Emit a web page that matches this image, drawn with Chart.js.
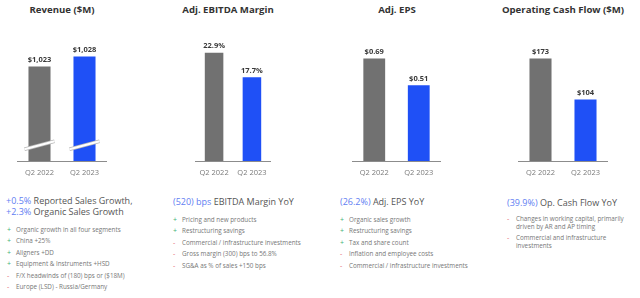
<!DOCTYPE html>
<html>
<head>
<meta charset="utf-8">
<script src="https://cdn.jsdelivr.net/npm/chart.js@4.4.0/dist/chart.umd.min.js"></script>
<style>
    html, body { margin: 0; padding: 0; background: #ffffff; }
    body { width: 640px; height: 298px; position: relative; overflow: hidden; font-family: 'Open Sans', sans-serif; }
    canvas { position: absolute; top: 0; }
    .title { position: absolute; top: 3px; width: 160px; text-align: center; font-weight: 700; font-size: 9.6px; color: #333; white-space: nowrap; }
    .headline { position: absolute; top: 196px; font-size: 9px; line-height: 10.5px; color: #555; white-space: nowrap; }
    .headline .hl { color: #5f7ef2; }
    .bullets { position: absolute; margin: 0; padding: 0; list-style: none; font-size: 6.3px; color: #777; }
    .bullets li { position: relative; padding-left: 9px; margin-bottom: 3.6px; line-height: 7.8px; }
    .bullets li::before { position: absolute; left: 0; top: 0; font-size: 7px; }
    .bullets li.pos::before { content: '+'; color: #3fb37a; }
    .bullets li.neg::before { content: '-'; color: #e36a6a; }
</style>
</head>
<body>

<div class="title" style="left: -18px;">Revenue ($M)</div>
<div class="title" style="left: 148px;">Adj. EBITDA Margin</div>
<div class="title" style="left: 317px;">Adj. EPS</div>
<div class="title" style="left: 483px;">Operating Cash Flow ($M)</div>

<canvas id="revenueChart" width="90" height="184" style="left: 17px;"></canvas>
<canvas id="ebitdaChart" width="80" height="184" style="left: 193px;"></canvas>
<canvas id="epsChart" width="89" height="184" style="left: 352px;"></canvas>
<canvas id="ocfChart" width="90" height="184" style="left: 518px;"></canvas>

<div class="headline" style="left: 6px;"><span class="hl">+0.5%</span> Reported Sales Growth,<br><span class="hl">+2.3%</span> Organic Sales Growth</div>
<ul class="bullets" style="left: 7px; top: 226px;">
    <li class="pos">Organic growth in all four segments</li>
    <li class="pos">China +25%</li>
    <li class="pos">Aligners +DD</li>
    <li class="pos">Equipment &amp; Instruments +HSD</li>
    <li class="neg">F/X headwinds of (180) bps or ($18M)</li>
    <li class="neg">Europe (LSD) - Russia/Germany</li>
</ul>

<div class="headline" style="left: 173px; top: 197px;"><span class="hl">(520) bps</span> EBITDA Margin YoY</div>
<ul class="bullets" style="left: 173px; top: 216px;">
    <li class="pos">Pricing and new products</li>
    <li class="pos">Restructuring savings</li>
    <li class="neg">Commercial / infrastructure investments</li>
    <li class="neg">Gross margin (300) bps to 56.8%</li>
    <li class="neg">SG&amp;A as % of sales +150 bps</li>
</ul>

<div class="headline" style="left: 340px; top: 197px;"><span class="hl">(26.2%)</span> Adj. EPS YoY</div>
<ul class="bullets" style="left: 340px; top: 216px;">
    <li class="pos">Organic sales growth</li>
    <li class="pos">Restructuring savings</li>
    <li class="pos">Tax and share count</li>
    <li class="neg">Inflation and employee costs</li>
    <li class="neg">Commercial / infrastructure investments</li>
</ul>

<div class="headline" style="left: 507px; top: 198px;"><span class="hl">(39.9%)</span> Op. Cash Flow YoY</div>
<ul class="bullets" style="left: 507px; top: 215px; width: 120px; white-space: normal;">
    <li class="neg">Changes in working capital, primarily driven by AR and AP timing</li>
    <li class="neg">Commercial and infrastructure investments</li>
</ul>

<script>
// --- Chart data ---
const periods = ['Q2 2022', 'Q2 2023'];
const revenue = [1023, 1028];
const ebitdaMargin = [22.9, 17.7];
const adjEps = [0.69, 0.51];
const opCashFlow = [173, 104];

const barColors = ['#717171', '#1f50f6'];
const fontFamily = "'Open Sans', sans-serif";

// --- Value labels drawn above each bar ---
const valueLabels = {
    id: 'valueLabels',
    afterDatasetsDraw(chart, args, opts) {
        const ctx = chart.ctx;
        const meta = chart.getDatasetMeta(0);
        ctx.save();
        ctx.font = `700 7.5px ${fontFamily}`;
        ctx.fillStyle = '#3a3a3a';
        ctx.textAlign = 'center';
        ctx.textBaseline = 'bottom';
        meta.data.forEach((bar, i) => {
            ctx.fillText(opts.format(chart.data.datasets[0].data[i]), bar.x, bar.y - 3);
        });
        ctx.restore();
    }
};

// --- Axis break marks (revenue only, since its scale does not start at zero) ---
const breakMarks = {
    id: 'breakMarks',
    afterDatasetsDraw(chart, args, opts) {
        if (opts.value === undefined) return;
        const ctx = chart.ctx;
        const y = chart.scales.y.getPixelForValue(opts.value);
        chart.getDatasetMeta(0).data.forEach(bar => {
            const half = bar.width / 2 + 4;
            ctx.save();
            ctx.strokeStyle = '#b8b8b8';
            ctx.lineWidth = 3.6;
            ctx.beginPath();
            ctx.moveTo(bar.x - half, y + 4);
            ctx.lineTo(bar.x + half, y - 4);
            ctx.stroke();
            ctx.strokeStyle = '#ffffff';
            ctx.lineWidth = 2.2;
            ctx.stroke();
            ctx.restore();
        });
    }
};

function renderBarChart(canvasId, values, yMin, yMax, format, breakValue) {
    const ctx = document.getElementById(canvasId);
    return new Chart(ctx, {
        type: 'bar',
        data: {
            labels: periods,
            datasets: [{
                data: values,
                backgroundColor: barColors,
                barPercentage: 0.49,
                categoryPercentage: 1
            }]
        },
        options: {
            responsive: false,
            animation: false,
            layout: { padding: { top: 30, left: 0, right: 0, bottom: 0 } },
            plugins: {
                legend: { display: false },
                tooltip: { enabled: false },
                valueLabels: { format: format },
                breakMarks: { value: breakValue }
            },
            scales: {
                x: {
                    grid: { display: false, drawTicks: false },
                    border: { color: '#8c8c8c', width: 1 },
                    ticks: { color: '#7a7a7a', padding: 7, font: { family: 'Open Sans', size: 7.5 } }
                },
                y: { display: false, min: yMin, max: yMax }
            }
        },
        plugins: [valueLabels, breakMarks]
    });
}

renderBarChart('revenueChart', revenue, 975, 1041.5, v => '$' + v.toLocaleString('en-US'), 983);
renderBarChart('ebitdaChart', ebitdaMargin, 0, 27.7, v => v.toFixed(1) + '%');
renderBarChart('epsChart', adjEps, 0, 0.8825, v => '$' + v.toFixed(2));
renderBarChart('ocfChart', opCashFlow, 0, 221.3, v => '$' + v);
</script>
</body>
</html>
